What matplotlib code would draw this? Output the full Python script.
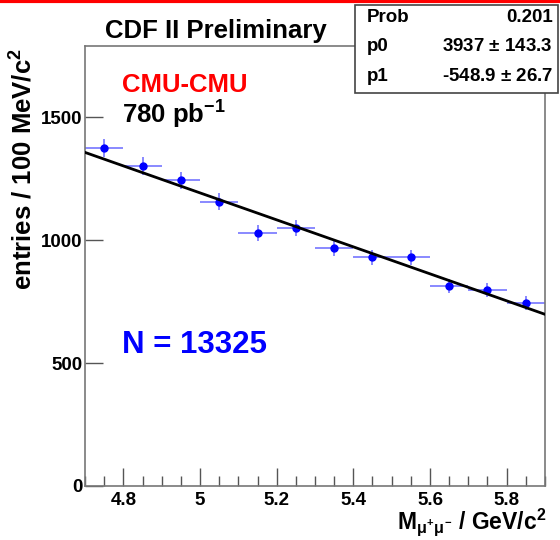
import matplotlib
matplotlib.use('Agg')
import matplotlib.pyplot as plt
from matplotlib.ticker import MultipleLocator
import numpy as np

plt.rcParams['font.family'] = ['Liberation Sans', 'DejaVu Sans']
plt.rcParams['font.weight'] = 'bold'
plt.rcParams['mathtext.fontset'] = 'custom'
plt.rcParams['mathtext.rm'] = 'Liberation Sans:bold'
plt.rcParams['mathtext.it'] = 'Liberation Sans:bold'
plt.rcParams['mathtext.bf'] = 'Liberation Sans:bold'

# bin centres (GeV/c^2) and counts
mass = [4.75, 4.85, 4.95, 5.05, 5.15, 5.25, 5.35, 5.45, 5.55, 5.65, 5.75, 5.85]
counts = [1374, 1302, 1243, 1156, 1030, 1050, 967, 931, 931, 812, 798, 745]
bin_half = 0.05

# linear fit parameters from the stat box
p0 = 3937
p1 = -548.9
stat_rows = [('Prob', '0.201'), ('p0', '3937 $\\pm$ 143.3'), ('p1', '-548.9 $\\pm$ 26.7')]

fig = plt.figure(figsize=(5.6, 5.4), dpi=100)
ax = fig.add_axes([0.1518, 0.1, 0.8214, 0.8148])

x = np.array(mass)
y = np.array(counts)
ax.errorbar(x, y, xerr=bin_half, yerr=np.sqrt(y), fmt='none',
            ecolor='#8080ff', elinewidth=1.3, capsize=0, zorder=2)
ax.plot(x, y, 'o', color='blue', markersize=5, zorder=3)

xf = np.array([4.7, 5.9])
ax.plot(xf, p0 + p1 * xf, color='black', lw=2, zorder=4)

ax.set_xlim(4.7, 5.9)
ax.set_ylim(0, 1790)
ax.xaxis.set_minor_locator(MultipleLocator(0.05))
ax.yaxis.set_major_locator(MultipleLocator(500))
ax.set_xticks([4.8, 5.0, 5.2, 5.4, 5.6, 5.8])
ax.set_xticklabels(['4.8', '5', '5.2', '5.4', '5.6', '5.8'])
ax.tick_params(axis='both', which='major', direction='in', length=13, width=1,
               color='#555555', labelsize=13.5)
ax.tick_params(axis='x', which='minor', direction='in', length=7, width=1, color='#555555')
ax.tick_params(axis='x', which='major', pad=4)
ax.tick_params(axis='y', which='major', pad=2)
for s in ax.spines.values():
    s.set_color('#777777')
    s.set_linewidth(1.2)

ax.set_ylabel('entries / 100 MeV/c$^2$', fontsize=18.5, fontweight='bold')
ax.yaxis.set_label_coords(-0.105, 0.72)
fig.text(0.975, 0.02, 'M$_{\\mu^{+}\\mu^{-}}$ / GeV/c$^2$', fontsize=16.5,
         fontweight='bold', ha='right', va='baseline')

fig.text(0.385, 0.929, 'CDF II Preliminary', fontsize=18.5, fontweight='bold',
         ha='center', va='baseline')
fig.text(0.218, 0.8296, 'CMU-CMU', fontsize=18.5, color='red', fontweight='bold',
         ha='left', va='baseline')
fig.text(0.218, 0.772, '780 pb$^{-1}$', fontsize=18.5, color='black', fontweight='bold',
         ha='left', va='baseline')
fig.text(0.218, 0.346, 'N = 13325', fontsize=22.5, color='blue', fontweight='bold',
         ha='left', va='baseline')

# red band along the top edge
fig.add_artist(plt.Line2D([0, 1], [0.998, 0.998], color='red', lw=3,
                          transform=fig.transFigure))

# stat box
box = plt.Rectangle((0.634, 0.828), 0.362, 0.163, transform=fig.transFigure,
                    facecolor='white', edgecolor='#444444', lw=1.2, zorder=5)
fig.add_artist(box)
for i, (name, val) in enumerate(stat_rows):
    yy = 0.967 - i * 0.054
    fig.text(0.655, yy, name, fontsize=13.5, fontweight='bold', ha='left', va='center', zorder=6)
    fig.text(0.9875, yy, val, fontsize=13.5, fontweight='bold', ha='right', va='center', zorder=6)

fig.savefig('out.png', dpi=100)
